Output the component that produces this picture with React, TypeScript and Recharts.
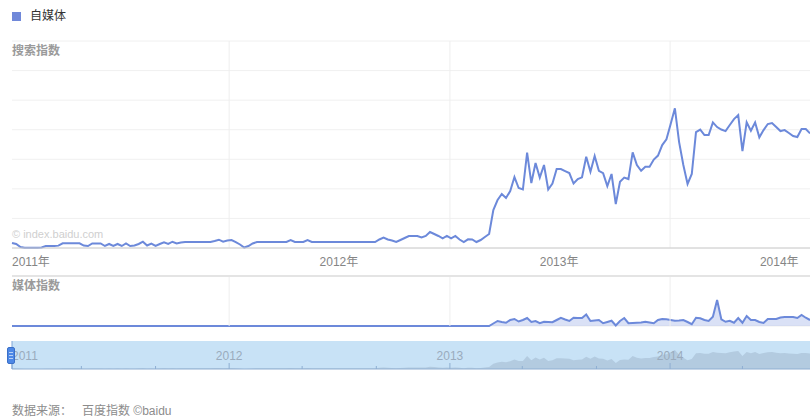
import React from 'react'
import {
  LineChart,
  Line,
  AreaChart,
  Area,
  XAxis,
  YAxis,
  CartesianGrid,
  ReferenceLine,
} from 'recharts'

const WEEK = 7 * 24 * 3600 * 1000
const firstWeek = Date.UTC(2011, 0, 6)
const weekOf = (y: number, m: number, d = 1) => (Date.UTC(y, m, d) - firstWeek) / WEEK

const seriesName = '自媒体'

// weekly 搜索指数
const searchIndex = [
  85, 68, 17, 5, 5, 5, 5, 10, 34, 34,
  34, 40, 79, 79, 79, 79, 79, 42, 34, 76,
  76, 76, 34, 68, 34, 68, 34, 76, 34, 42,
  68, 106, 42, 73, 34, 68, 96, 68, 106, 76,
  93, 101, 101, 101, 101, 101, 101, 101, 118, 140,
  106, 127, 135, 101, 59, 8, 34, 76, 101, 101,
  101, 101, 101, 101, 101, 101, 135, 101, 101, 101,
  135, 101, 101, 101, 101, 101, 101, 101, 101, 101,
  101, 101, 101, 101, 101, 101, 101, 144, 177, 144,
  127, 101, 135, 169, 203, 203, 203, 177, 203, 270,
  237, 203, 164, 203, 164, 203, 144, 101, 147, 144,
  101, 135, 186, 237, 642, 811, 913, 845, 963, 1200,
  1014, 989, 1614, 1098, 1436, 1191, 1403, 989, 1090, 1335,
  1335, 1301, 1267, 1090, 1166, 1195, 1543, 1289, 1555, 1306,
  1267, 1048, 1251, 744, 1120, 1191, 1166, 1617, 1403, 1306,
  1374, 1374, 1496, 1563, 1741, 1837, 2096, 2361, 1791, 1403,
  1082, 1251, 1960, 2003, 1910, 1910, 2124, 2045, 2003, 1977,
  2079, 2180, 2248, 1639, 2124, 1982, 2124, 1871, 1994, 2096,
  2113, 2045, 1977, 1994, 1944, 1893, 1876, 2011, 2011, 1938,
]

// weekly 媒体指数
const mediaIndex = [
  0, 0, 0, 0, 0, 0, 0, 0, 0, 0,
  0, 0, 0, 0, 0, 0, 0, 0, 0, 0,
  0, 0, 0, 0, 0, 0, 0, 0, 0, 0,
  0, 0, 0, 0, 0, 0, 0, 0, 0, 0,
  0, 0, 0, 0, 0, 0, 0, 0, 0, 0,
  0, 0, 0, 0, 0, 0, 0, 0, 0, 0,
  0, 0, 0, 0, 0, 0, 0, 0, 0, 0,
  0, 0, 0, 0, 0, 0, 0, 0, 0, 0,
  0, 0, 0, 0, 0, 0, 0, 0, 0, 0,
  0, 0, 0, 0, 0, 0, 0, 0, 0, 0,
  0, 0, 0, 0, 0, 0, 0, 0, 0, 0,
  0, 0, 0, 0, 10, 20, 16, 13, 24, 28,
  18, 24, 32, 16, 20, 11, 17, 16, 15, 24,
  33, 26, 20, 33, 32, 32, 46, 20, 22, 24,
  11, 16, 21, 2, 20, 32, 11, 12, 13, 14,
  17, 14, 11, 24, 28, 27, 24, 21, 22, 24,
  16, 7, 33, 31, 24, 20, 37, 104, 27, 17,
  21, 13, 32, 13, 40, 24, 24, 16, 12, 28,
  28, 28, 34, 36, 36, 36, 32, 44, 33, 24,
]

const years = [2011, 2012, 2013, 2014]
const yearLabels = ['2011年', '2012年', '2013年', '2014年']
const navLabels = ['2011', '2012', '2013', '2014']
const searchTicks = [0, 500, 1000, 1500, 2000, 2500, 3000, 3500]
const mediaTicks = [0, 100, 200]

const data = searchIndex.map((search, week) => ({ week, search, media: mediaIndex[week] }))
const lastWeek = data.length - 1
const yearStarts = years.slice(1).map((y) => weekOf(y, 0))
// first label hugs the left edge, the rest sit mid-year
const labelWeeks = years.map((y, i) => (i === 0 ? 0 : weekOf(y, 6)))
const navTicks = [
  0,
  ...years.flatMap((y) => [weekOf(y, 0), weekOf(y, 4), weekOf(y, 8)]).filter((w) => w > 0 && w <= lastWeek),
]

const LINE = '#6c89da'
const FONT = 'Arial, "Liberation Sans", "Noto Sans CJK SC", sans-serif'

const YearTick = (props: any) => {
  const { x, y, index } = props
  return (
    <text x={x} y={y} dy={18} textAnchor={index === 0 ? 'start' : 'middle'} fill="#858585" fontSize={12}>
      {yearLabels[index]}
    </text>
  )
}

const NavTick = (props: any) => {
  const { x, y, payload } = props
  const w = payload.value
  const yi = w === 0 ? 0 : years.findIndex((yy) => Math.abs(weekOf(yy, 0) - w) < 1e-6)
  const major = yi >= 0
  return (
    <g>
      <line x1={x} x2={x} y1={y} y2={y - (major ? 6 : 3)} stroke="#8eaed2" />
      {major && (
        <text x={x} y={y} dy={-9} textAnchor={w === 0 ? 'start' : 'middle'} fill="#9aabbd" fontSize={12}>
          {navLabels[yi]}
        </text>
      )}
    </g>
  )
}

const label = (top: number, left: number, color: string, text: string, extra: any = {}) => (
  <div
    style={{ position: 'absolute', top, left, fontSize: 12, lineHeight: '12px', color, whiteSpace: 'nowrap', ...extra }}
  >
    {text}
  </div>
)

export default function App() {
  return (
    <div
      style={{
        position: 'absolute',
        left: 0,
        top: 0,
        width: 810,
        height: 418,
        background: '#fff',
        fontFamily: FONT,
        overflow: 'hidden',
      }}
    >
      <div style={{ position: 'absolute', left: 12, top: 12, width: 9, height: 9, background: '#7088d9' }} />
      {label(10, 30, '#333', seriesName)}

      <div style={{ position: 'absolute', left: 0, top: 0 }}>
        <LineChart width={810} height={275} data={data} margin={{ top: 41, right: 0, bottom: 0, left: 12 }}>
          <CartesianGrid vertical={false} stroke="#f0f0f0" />
          {yearStarts.map((w) => (
            <ReferenceLine key={w} x={w} stroke="#eeeeee" />
          ))}
          <XAxis
            type="number"
            dataKey="week"
            domain={[0, lastWeek]}
            ticks={labelWeeks}
            interval={0}
            tick={<YearTick />}
            tickLine={false}
            tickSize={0}
            tickMargin={0}
            axisLine={{ stroke: '#cccccc' }}
            height={27}
          />
          <YAxis hide width={0} domain={[0, 3500]} ticks={searchTicks} />
          <Line
            type="linear"
            dataKey="search"
            name={seriesName}
            stroke={LINE}
            strokeWidth={2}
            dot={false}
            activeDot={false}
            isAnimationActive={false}
          />
        </LineChart>
      </div>
      {label(45, 12, '#9a9a9a', '搜索指数', { fontWeight: 'bold' })}
      <div
        style={{ position: 'absolute', left: 12, top: 229, fontSize: 11, lineHeight: '11px', color: '#cfcfcf' }}
      >
        © index.baidu.com
      </div>

      <div style={{ position: 'absolute', left: 0, top: 270 }}>
        <AreaChart width={810} height={60} data={data} margin={{ top: 6, right: 0, bottom: 4, left: 12 }}>
          <CartesianGrid vertical={false} stroke="#f0f0f0" />
          {yearStarts.map((w) => (
            <ReferenceLine key={w} x={w} stroke="#eeeeee" />
          ))}
          <ReferenceLine y={200} stroke="#e4e4e4" strokeWidth={2} />
          <XAxis hide type="number" dataKey="week" domain={[0, lastWeek]} height={0} />
          <YAxis hide width={0} domain={[0, 200]} ticks={mediaTicks} />
          <Area
            type="linear"
            dataKey="media"
            stroke={LINE}
            strokeWidth={2}
            fill={LINE}
            fillOpacity={0.25}
            dot={false}
            activeDot={false}
            isAnimationActive={false}
          />
        </AreaChart>
      </div>
      {label(280, 12, '#9a9a9a', '媒体指数', { fontWeight: 'bold' })}

      <div style={{ position: 'absolute', left: 0, top: 335 }}>
        <AreaChart width={810} height={40} data={data} margin={{ top: 6, right: 0, bottom: 0, left: 12 }}>
          <CartesianGrid horizontal={false} vertical={false} fill="#c8e2f6" fillOpacity={1} />
          <YAxis hide width={0} domain={[0, 3500]} />
          <Area
            type="linear"
            dataKey="search"
            stroke="none"
            fill="#b3cbe0"
            fillOpacity={1}
            dot={false}
            activeDot={false}
            isAnimationActive={false}
          />
          <ReferenceLine x={0} stroke="#7ea5d8" />
          <XAxis
            type="number"
            dataKey="week"
            domain={[0, lastWeek]}
            ticks={navTicks}
            interval={0}
            tick={<NavTick />}
            tickLine={false}
            tickSize={0}
            tickMargin={0}
            axisLine={{ stroke: '#8eaed2' }}
            height={6}
          />
        </AreaChart>
      </div>
      <div
        style={{
          position: 'absolute',
          left: 7,
          top: 347,
          width: 6,
          height: 15,
          background: '#4d88e6',
          border: '1px solid #3b70c8',
          borderRadius: 2,
        }}
      >
        {[4, 7, 10].map((t) => (
          <div key={t} style={{ position: 'absolute', left: 1, top: t, width: 4, height: 1, background: '#b9d1f5' }} />
        ))}
      </div>

      {label(405, 12, '#8c8c8c', '数据来源：')}
      {label(405, 82, '#8c8c8c', '百度指数 ©baidu')}
    </div>
  )
}
